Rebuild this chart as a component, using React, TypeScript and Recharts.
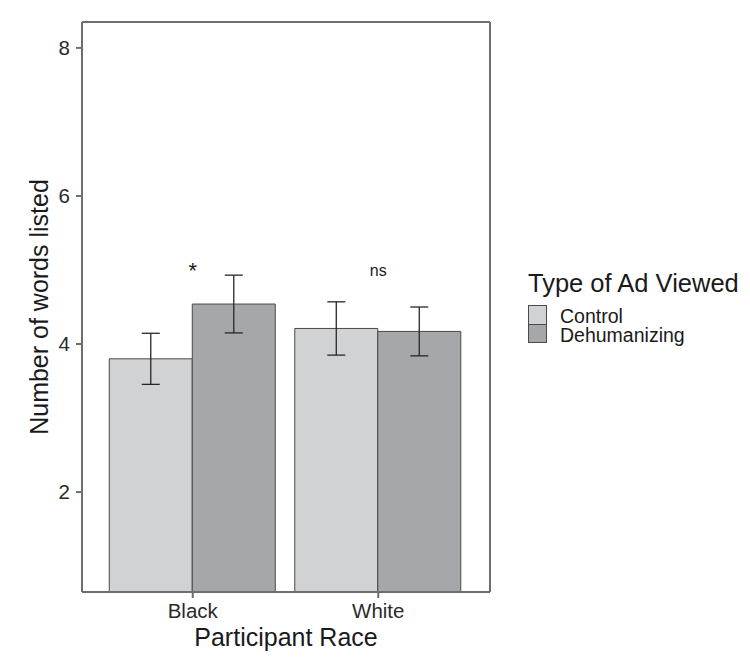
import { BarChart, Bar, XAxis, YAxis, ErrorBar, Legend, ReferenceDot, CartesianGrid } from 'recharts';

const races = ['Black', 'White'];
const controlMeans = [3.8, 4.21];
const controlSE = [0.345, 0.36];
const dehumMeans = [4.54, 4.17];
const dehumSE = [0.39, 0.33];
const sigLabels = ['*', 'ns'];
const sigY = [5, 5];
const yTicks = [2, 4, 6, 8];

const FONT = '"Liberation Sans", Arial, Helvetica, sans-serif';
const CONTROL_FILL = '#d1d2d4';
const DEHUM_FILL = '#a6a7aa';
const PANEL = '#6e6e6e';

const data = races.map((race, i) => ({
  race,
  control: controlMeans[i],
  controlErr: controlSE[i],
  dehumanizing: dehumMeans[i],
  dehumanizingErr: dehumSE[i],
}));

const legendItems = [
  { name: 'Control', fill: CONTROL_FILL },
  { name: 'Dehumanizing', fill: DEHUM_FILL },
];

function AdLegend() {
  return (
    <div style={{ fontFamily: FONT, color: '#1a1a1a' }}>
      <div style={{ fontSize: 25.5, lineHeight: '28px', whiteSpace: 'nowrap' }}>Type of Ad Viewed</div>
      <div style={{ marginTop: 8 }}>
        {legendItems.map((item, i) => (
          <div key={item.name} style={{ display: 'flex', alignItems: 'center', height: 19 }}>
            <div
              style={{
                width: 17,
                height: i === 0 ? 18 : 17,
                background: item.fill,
                border: '1px solid #4a4a4a',
                borderTop: i === 0 ? '1px solid #4a4a4a' : 'none',
                boxSizing: 'content-box',
              }}
            />
            <span style={{ fontSize: 19.5, lineHeight: '17px', marginLeft: 13, position: 'relative', top: 2 }}>
              {item.name}
            </span>
          </div>
        ))}
      </div>
    </div>
  );
}

// panel border on top and right edges of the plotting area
const topEdge = ({ offset }: any) => [offset.top];
const rightEdge = ({ offset }: any) => [offset.left + offset.width];

export default function App() {
  return (
    <div
      style={{
        position: 'relative',
        width: 750,
        height: 668,
        margin: -8,
        overflow: 'hidden',
        background: '#fff',
      }}
    >
      {/* figure frame: only its top and left edges fall inside the picture */}
      <div
        style={{
          position: 'absolute',
          left: 6,
          top: 3,
          right: -20,
          bottom: -20,
          borderTop: '2px solid #2a2a2a',
          borderLeft: '2px solid #2a2a2a',
          zIndex: 5,
          pointerEvents: 'none',
        }}
      />
      <BarChart
        width={750}
        height={668}
        data={data}
        margin={{ top: 22, right: 260, bottom: 0, left: 0 }}
        barCategoryGap="5%"
        barGap={0}
        style={{ fontFamily: FONT }}
      >
        <CartesianGrid
          stroke={PANEL}
          strokeWidth={2}
          horizontalCoordinatesGenerator={topEdge}
          verticalCoordinatesGenerator={rightEdge}
        />
        <XAxis
          dataKey="race"
          height={76}
          padding={{ left: 18, right: 19 }}
          tickSize={6}
          tickMargin={5}
          tick={{ fontSize: 20.5, fill: '#2a2a2a' }}
          tickLine={{ stroke: PANEL, strokeWidth: 2 }}
          axisLine={{ stroke: PANEL, strokeWidth: 2 }}
          label={{ value: 'Participant Race', position: 'insideBottom', offset: 22, fontSize: 25, fill: '#1a1a1a' }}
        />
        <YAxis
          width={82}
          domain={[0.65, 8.35]}
          allowDataOverflow
          ticks={yTicks}
          tickSize={6}
          tickMargin={6}
          tick={{ fontSize: 20.5, fill: '#2a2a2a' }}
          tickLine={{ stroke: PANEL, strokeWidth: 2 }}
          axisLine={{ stroke: PANEL, strokeWidth: 2 }}
          label={{ value: 'Number of words listed', angle: -90, position: 'center', dx: -2, fontSize: 25, fill: '#1a1a1a' }}
        />
        <Bar dataKey="control" name="Control" fill={CONTROL_FILL} stroke="#4a4a4a" strokeWidth={1} isAnimationActive={false}>
          <ErrorBar dataKey="controlErr" width={9} stroke="#262626" strokeWidth={1.3} isAnimationActive={false} />
        </Bar>
        <Bar dataKey="dehumanizing" name="Dehumanizing" fill={DEHUM_FILL} stroke="#4a4a4a" strokeWidth={1} isAnimationActive={false}>
          <ErrorBar dataKey="dehumanizingErr" width={9} stroke="#262626" strokeWidth={1.3} isAnimationActive={false} />
        </Bar>
        {races.map((race, i) => (
          <ReferenceDot
            key={race}
            x={race}
            y={sigY[i]}
            r={0}
            fill="none"
            stroke="none"
            label={{ value: sigLabels[i], position: 'center', fontSize: sigLabels[i] === '*' ? 22 : 16, fill: '#1a1a1a' }}
          />
        ))}
        <Legend
          layout="vertical"
          align="center"
          verticalAlign="middle"
          content={<AdLegend />}
          wrapperStyle={{ left: 528, top: 269, width: 222, height: 80 }}
        />
      </BarChart>
    </div>
  );
}
